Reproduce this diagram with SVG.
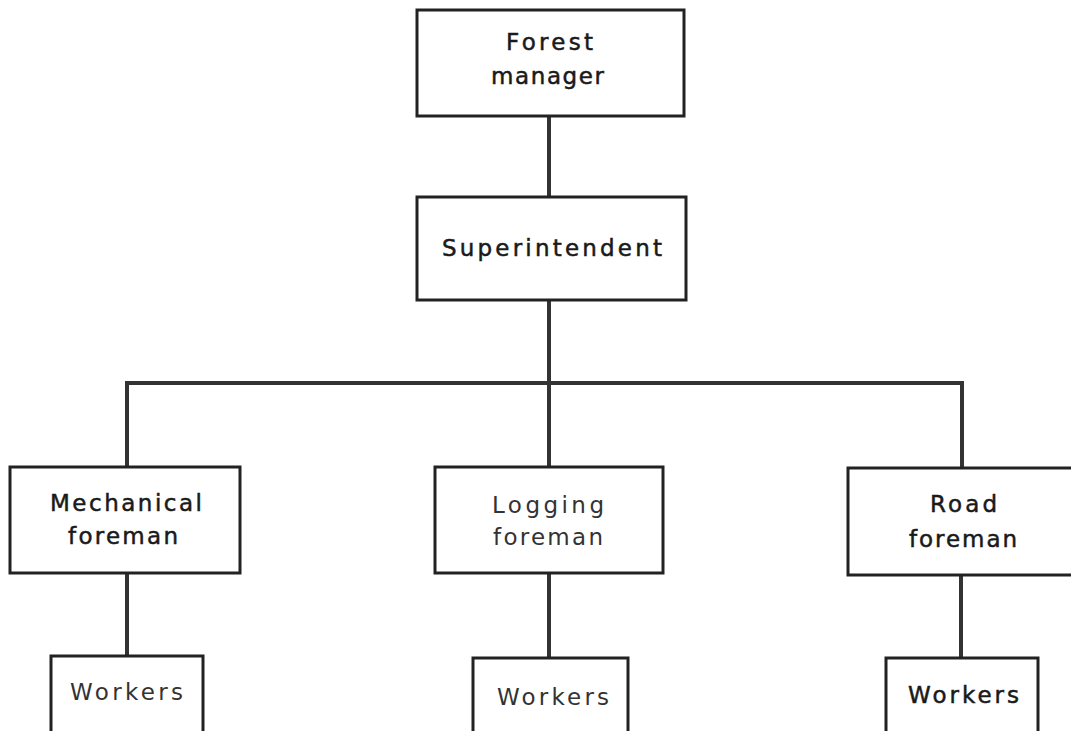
<svg xmlns="http://www.w3.org/2000/svg" width="1071" height="731" viewBox="0 0 1071 731">
<style>
.box{fill:#fff;stroke:#222;stroke-width:3}
.con{fill:none;stroke:#333;stroke-width:4}
text{font-family:"DejaVu Sans","Liberation Sans",sans-serif;font-size:23px;fill:#1a1a1a;text-anchor:start}
.b{stroke:#1a1a1a;stroke-width:0.5}
.l{fill:#333}
</style>
<rect width="1071" height="731" fill="#fff"/>
<g id="connectors">
<line class="con" x1="549" y1="116" x2="549" y2="197"/>
<line class="con" x1="549" y1="300" x2="549" y2="467"/>
<path class="con" d="M127 467 V383 H962 V468"/>
<line class="con" x1="127" y1="573" x2="127" y2="656"/>
<line class="con" x1="549" y1="573" x2="549" y2="658"/>
<line class="con" x1="961" y1="575" x2="961" y2="658"/>
</g>
<g id="forest-manager">
<rect class="box" x="417" y="10" width="267" height="106"/>
<text class="b" x="506" y="50" textLength="87" lengthAdjust="spacing">Forest</text>
<text class="b" x="491" y="84" textLength="113" lengthAdjust="spacing">manager</text>
</g>
<g id="superintendent">
<rect class="box" x="417" y="197" width="269" height="103"/>
<text class="b" x="442" y="256" textLength="220" lengthAdjust="spacing">Superintendent</text>
</g>
<g id="mechanical-foreman">
<rect class="box" x="10" y="467" width="230" height="106"/>
<text class="b" x="50" y="511" textLength="152" lengthAdjust="spacing">Mechanical</text>
<text class="b" x="68" y="544" textLength="110" lengthAdjust="spacing">foreman</text>
</g>
<g id="logging-foreman">
<rect class="box" x="435" y="467" width="228" height="106"/>
<text class="l" x="492" y="513" textLength="112" lengthAdjust="spacing">Logging</text>
<text class="l" x="493" y="545" textLength="110" lengthAdjust="spacing">foreman</text>
</g>
<g id="road-foreman">
<rect class="box" x="848" y="468" width="230" height="107"/>
<text class="b" x="930" y="512" textLength="67" lengthAdjust="spacing">Road</text>
<text class="b" x="909" y="547" textLength="108" lengthAdjust="spacing">foreman</text>
</g>
<g id="workers-left">
<rect class="box" x="51" y="656" width="152" height="90"/>
<text class="l" x="70" y="700" textLength="113" lengthAdjust="spacing">Workers</text>
</g>
<g id="workers-middle">
<rect class="box" x="473" y="658" width="155" height="90"/>
<text class="l" x="497" y="705" textLength="112" lengthAdjust="spacing">Workers</text>
</g>
<g id="workers-right">
<rect class="box" x="886" y="658" width="152" height="90"/>
<text class="b" x="908" y="703" textLength="111" lengthAdjust="spacing">Workers</text>
</g>
</svg>
